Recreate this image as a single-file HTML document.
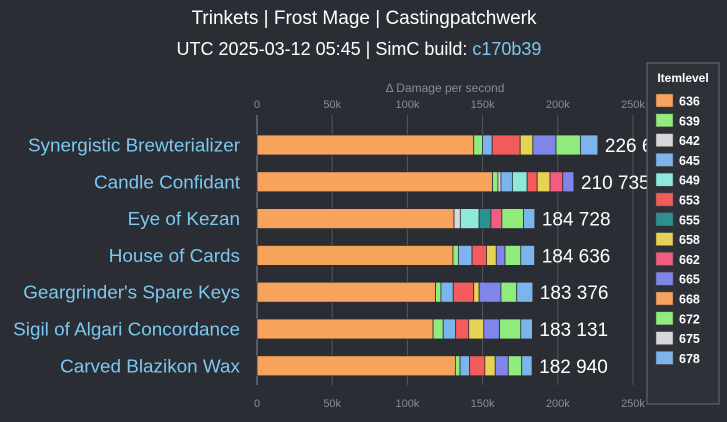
<!DOCTYPE html>
<html><head><meta charset="utf-8"><style>
body{margin:0;background:#2a2d33;width:727px;height:417px;overflow:hidden;font-family:"Liberation Sans",sans-serif}
svg text{font-family:"Liberation Sans",sans-serif}
</style></head><body>
<svg id="chart" width="727" height="417" xmlns="http://www.w3.org/2000/svg">
<rect width="727" height="417" fill="#2a2d33"/>
<text x="364" y="24" text-anchor="middle" fill="#ffffff" font-size="19">Trinkets | Frost Mage | Castingpatchwerk</text>
<text x="359" y="55" text-anchor="middle" fill="#ffffff" font-size="18">UTC 2025-03-12 05:45 | SimC build: <tspan fill="#7cc8f0">c170b39</tspan></text>
<text x="445" y="92" text-anchor="middle" fill="#8a8d93" font-size="12">Δ Damage per second</text>
<g id="grid"></g><g id="bars"></g><g id="labels"></g>
<g>
<rect x="647" y="63" width="72" height="341" fill="#2e3238" stroke="#6a6d72" stroke-width="1"/>
<text x="683" y="82" text-anchor="middle" fill="#ffffff" font-size="12" font-weight="bold">Itemlevel</text>
<g id="legend"></g></g>
</svg>
<script>
const levels=[636,639,642,645,649,653,655,658,662,665,668,672,675,678];
const colors=["#f7a35c","#90ed7d","#d8d8dc","#7cb5ec","#8ee8dc","#f45b5b","#2b908f","#e4d354","#f15c80","#8085e9","#f7a35c","#90ed7d","#d8d8dc","#7cb5ec"];
const trinkets=["Synergistic Brewterializer","Candle Confidant","Eye of Kezan","House of Cards","Geargrinder's Spare Keys","Sigil of Algari Concordance","Carved Blazikon Wax"];
const totals=[226650,210735,184728,184636,183376,183131,182940];
// cumulative DPS (k) reached at each item level; null = no step
const s1=[144.1,149.9,null,156.4,null,175,null,183.4,null,198.8,null,215,null,226.65];
const s2=[156.6,160.2,162.2,169.8,179.6,186.3,null,194.8,203.3,210.7,null,null,null,null];
const s3=[131,null,135.2,null,147.7,null,155.5,null,162.8,null,null,177.2,null,184.7];
const s4=[130.3,133.9,null,143,null,152.6,null,159.1,null,164.9,null,175.4,null,184.6];
const s5=[118.7,122.3,null,130.5,null,144.1,null,147.7,null,162.2,null,172.7,null,183.4];
const s6=[117.1,123.8,null,132.1,null,140.8,null,150.8,null,161.3,null,175.4,null,183.1];
const s7=[131.9,135,null,141.4,null,151.5,null,158.4,null,167.1,null,176,null,182.9];
const series=[s1,s2,s3,s4,s5,s6,s7];
const ticks=[0,50,100,150,200,250];
const tickLabels=["0","50k","100k","150k","200k","250k"];
const X0=257,X1=633,MAX=250,TOP=115,BOT=385;
const x=v=>X0+v/MAX*(X1-X0);
const y=i=>145+i*36.8;
const NS="http://www.w3.org/2000/svg";
function mk(tag,attrs,parent){const e=document.createElementNS(NS,tag);for(const k in attrs)e.setAttribute(k,attrs[k]);parent.appendChild(e);return e;}
const grid=document.getElementById('grid'),bars=document.getElementById('bars'),labels=document.getElementById('labels'),legend=document.getElementById('legend');
ticks.forEach((t,i)=>{
 const l=mk('line',{x1:x(t),x2:x(t),y1:TOP,y2:BOT,stroke:i==0?'#8a8d93':'#55585e'},grid);
 
 
 [108,407].forEach((yy,j)=>{const tx=mk('text',{x:x(t),y:yy,'text-anchor':'middle',fill:'#8a8d93','font-size':11},grid);tx.textContent=tickLabels[i];
 
 });
});
trinkets.forEach((name,i)=>{
 let prev=0;
 series[i].forEach((v,j)=>{
  if(v===null)return;
  const r=mk('rect',{x:x(prev),y:y(i)-10,width:Math.max(0,x(v)-x(prev)),height:20,fill:colors[j],stroke:'#2a2d33','stroke-width':0.8},bars);
  
  
  prev=v;
 });
 const c=mk('text',{x:240,y:y(i)+6.5,'text-anchor':'end',fill:'#7cc8f0','font-size':18.9},labels);c.textContent=name;
 
 
 const v=mk('text',{x:x(totals[i]/1000)+7,y:y(i)+7,fill:'#ffffff','font-size':19},labels);
 v.textContent=String(totals[i]).replace(/(\d{3})$/,' $1');
 
 
});
levels.forEach((lv,j)=>{
 const yy=94+j*19.8;
 const r=mk('rect',{x:656,y:yy,width:17,height:13,fill:colors[j],stroke:'#555','stroke-width':0.5},legend);
 
 
 const t=mk('text',{x:679,y:yy+11.5,fill:'#ffffff','font-size':12.5,'font-weight':'bold'},legend);t.textContent=lv;
 
 
});
</script>
</body></html>
